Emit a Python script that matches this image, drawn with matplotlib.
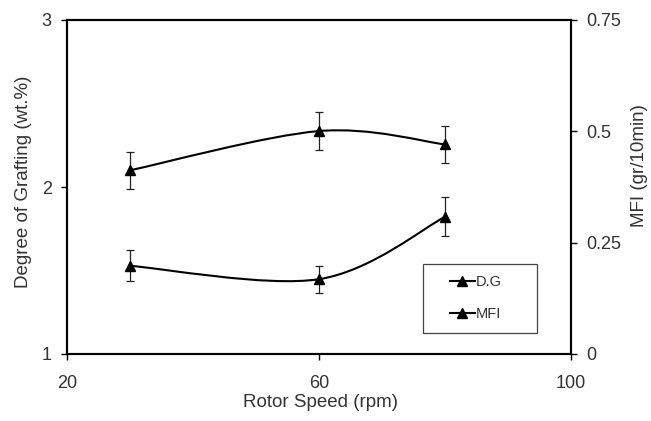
import numpy as np
import matplotlib
matplotlib.use('Agg')
import matplotlib.pyplot as plt
from matplotlib.path import Path
from matplotlib.patches import PathPatch, Rectangle
from matplotlib.lines import Line2D

plt.rcParams['font.family'] = ['Liberation Sans', 'DejaVu Sans']

# data
rotor_speed = [30, 60, 80]
dg = [2.10, 2.335, 2.255]          # degree of grafting (wt.%)
dg_err = [0.11, 0.115, 0.11]
mfi = [0.198, 0.168, 0.308]        # gr/10min
mfi_err = [0.035, 0.030, 0.044]

TXT = '#333333'
W, H = 651, 421


def smooth_path(x, y):
    # excel style smoothed line (bezier, tension 1/6)
    x = np.asarray(x, float)
    y = np.asarray(y, float)
    n = len(x)
    verts = [(x[0], y[0])]
    codes = [Path.MOVETO]
    for i in range(n - 1):
        p0 = (x[max(i - 1, 0)], y[max(i - 1, 0)])
        p1 = (x[i], y[i])
        p2 = (x[i + 1], y[i + 1])
        p3 = (x[min(i + 2, n - 1)], y[min(i + 2, n - 1)])
        c1 = (p1[0] + (p2[0] - p0[0]) / 6, p1[1] + (p2[1] - p0[1]) / 6)
        c2 = (p2[0] - (p3[0] - p1[0]) / 6, p2[1] - (p3[1] - p1[1]) / 6)
        verts += [c1, c2, p2]
        codes += [Path.CURVE4] * 3
    return Path(verts, codes)


fig = plt.figure(figsize=(6.51, 4.21), dpi=100)
ax = fig.add_axes([67 / W, 1 - 354 / H, 504 / W, 334 / H])
ax2 = ax.twinx()

ax.add_patch(PathPatch(smooth_path(rotor_speed, dg), fill=False, lw=1.5, ec='black'))
ax.errorbar(rotor_speed, dg, yerr=dg_err, fmt='^', color='black', ms=7,
            ecolor='#222222', elinewidth=0.9, capsize=3, capthick=0.9)

ax2.add_patch(PathPatch(smooth_path(rotor_speed, mfi), fill=False, lw=1.5, ec='black'))
ax2.errorbar(rotor_speed, mfi, yerr=mfi_err, fmt='^', color='black', ms=7,
             ecolor='#222222', elinewidth=0.9, capsize=3, capthick=0.9)

ax.set_xlim(20, 100)
ax.set_ylim(1, 3)
ax2.set_ylim(0, 0.75)
ax.set_xticks([20, 60, 100])
ax.set_yticks([1, 2, 3])
ax2.set_yticks([0, 0.25, 0.5, 0.75])
ax2.set_yticklabels(['0', '0.25', '0.5', '0.75'])

for a in (ax, ax2):
    a.tick_params(direction='out', length=4, width=1, colors='black',
                  labelcolor=TXT, labelsize=13, pad=7)
    for s in a.spines.values():
        s.set_linewidth(1.5)
ax.tick_params(axis='x', pad=11)

ax.set_xlabel('Rotor Speed (rpm)', fontsize=13.5, color=TXT)
ax.set_ylabel('Degree of Grafting (wt.%)', fontsize=13.5, color=TXT)
ax2.set_ylabel('MFI (gr/10min)', fontsize=13.5, color=TXT)
ax.xaxis.set_label_coords(0.502, -0.12)
ax.yaxis.set_label_coords(-0.069, 0.515)
ax2.yaxis.set_label_coords(1.119, 0.563)

# legend: frame drawn separately, excel-style box
fig.patches.append(Rectangle((423 / W, 1 - 333 / H), 114 / W, 69 / H,
                             transform=fig.transFigure, fill=False,
                             ec='#444444', lw=0.9))
handles = [Line2D([], [], color='black', marker='^', ms=7, lw=1.5),
           Line2D([], [], color='black', marker='^', ms=7, lw=1.5)]
leg = fig.legend(handles, ['D.G', 'MFI'], loc='upper left',
                 bbox_to_anchor=(450 / W, 1 - 275 / H), fontsize=10.5,
                 frameon=False, handlelength=1.7, handletextpad=0.05,
                 labelspacing=1.25, borderpad=0, borderaxespad=0)
for t in leg.get_texts():
    t.set_color(TXT)

fig.savefig('out.png', dpi=100)
